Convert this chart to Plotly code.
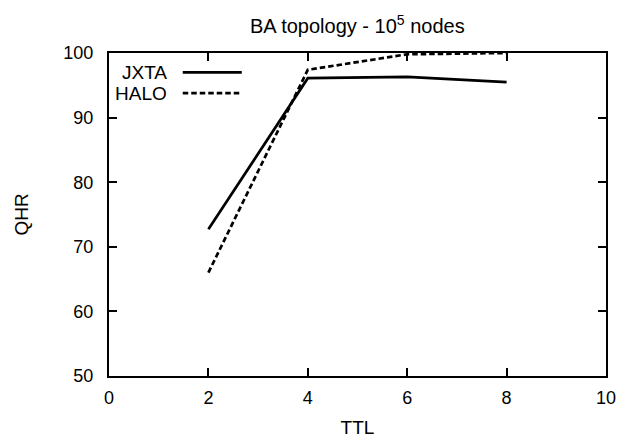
import plotly.graph_objects as go

ttl = [2, 4, 6, 8]
jxta_qhr = [72.7, 96.1, 96.3, 95.5]
halo_qhr = [66.0, 97.4, 99.8, 100.0]
series_names = ["JXTA", "HALO"]
x_ticks = [0, 2, 4, 6, 8, 10]
y_ticks = [50, 60, 70, 80, 90, 100]

FONT = "Liberation Sans, Arial, sans-serif"
DASH = "5.5px,3px"

# the page body has an 8px margin; target positions below are window pixels
OFF = 8
W, H = 635, 441
left, right, top, bottom = 109.0 - OFF, 605.7 - OFF, 53.3 - OFF, 375.7 - OFF
ml, mr, mt, mb = left, W - right, top, H - bottom
pw = right - left
ph = bottom - top

def px(xp):
    return (xp - OFF - left) / pw

def py(yp):
    return 1 - (yp - OFF - top) / ph

fig = go.Figure()
fig.add_trace(go.Scatter(x=ttl, y=jxta_qhr, mode="lines", name=series_names[0],
                         line=dict(color="black", width=2.7), showlegend=False))
fig.add_trace(go.Scatter(x=ttl, y=halo_qhr, mode="lines", name=series_names[1],
                         line=dict(color="black", width=2.7, dash=DASH), showlegend=False))

# gnuplot-style legend: label on the left, line sample on the right
legend_rows = [(series_names[0], 72.7, "solid"), (series_names[1], 93.3, DASH)]
for name, yp, dash in legend_rows:
    fig.add_annotation(x=px(169), y=py(yp), xref="paper", yref="paper", text=name,
                       showarrow=False, xanchor="right", yanchor="middle",
                       font=dict(family=FONT, size=19, color="black"))
    fig.add_shape(type="line", xref="paper", yref="paper",
                  x0=px(182.7), x1=px(241.7), y0=py(yp), y1=py(yp),
                  line=dict(color="black", width=2.7, dash=dash))

axis_common = dict(showgrid=False, zeroline=False, showline=True, linecolor="black",
                   linewidth=2, mirror="ticks", ticks="inside", ticklen=8,
                   tickwidth=1.5, tickcolor="black", automargin=False,
                   tickfont=dict(family=FONT, size=18, color="black"))

fig.update_layout(
    width=W, height=H,
    margin=dict(l=ml, r=mr, t=mt, b=mb, pad=0),
    paper_bgcolor="white", plot_bgcolor="white",
    title=dict(text="BA topology - 10<sup>5</sup> nodes", x=(left + pw / 2) / W, xanchor="center",
               y=1 - (26 - OFF) / H, yanchor="middle",
               font=dict(family=FONT, size=20, color="black")),
    xaxis=dict(range=[0, 10], tickvals=x_ticks, ticklabelstandoff=4,
               title=dict(text="TTL", standoff=14,
                          font=dict(family=FONT, size=19, color="black")), **axis_common),
    yaxis=dict(range=[50, 100], tickvals=y_ticks, ticklabelstandoff=10,
               title=dict(text="QHR", standoff=30,
                          font=dict(family=FONT, size=19, color="black")), **axis_common),
)

fig.write_html("out.html")
